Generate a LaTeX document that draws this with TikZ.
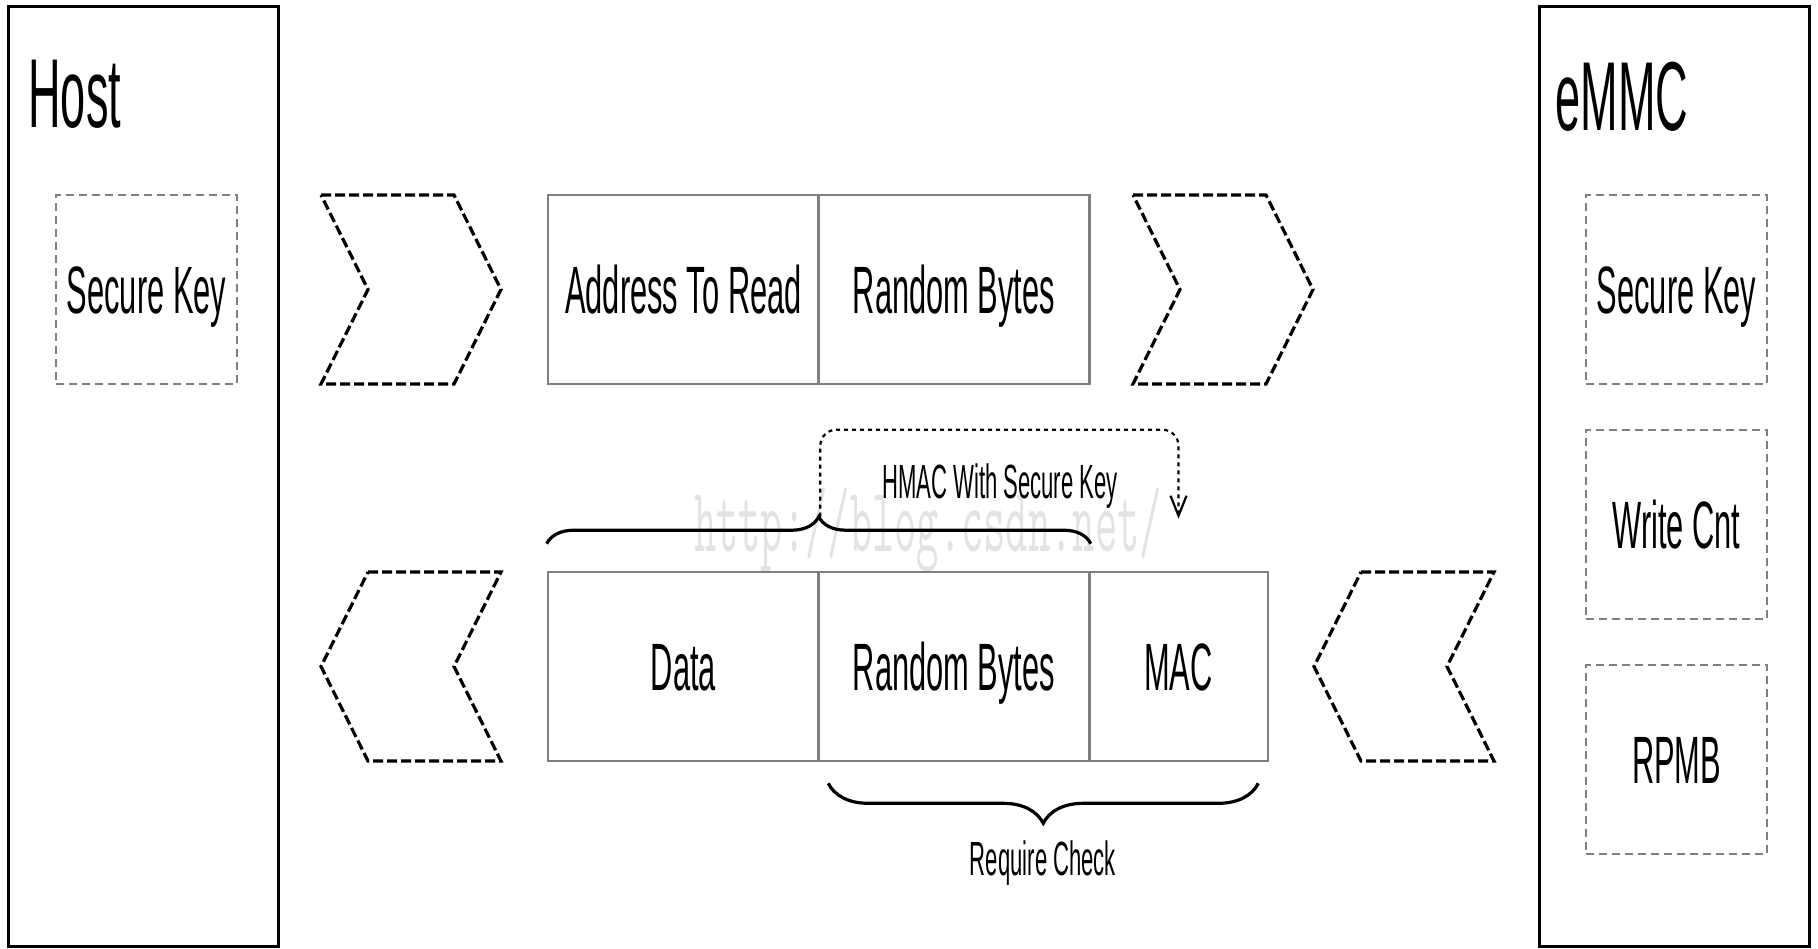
\documentclass[tikz,border=0pt]{standalone}
\usepackage{fontspec}
\usepackage{graphicx}
\usepackage{tikz}
\usetikzlibrary{arrows.meta,decorations.pathreplacing}
\pgfdeclarelayer{background}
\pgfsetlayers{background,main}
\newfontfamily\narrowsans{Liberation Sans}[FakeStretch=0.46]
\newcommand{\titlesize}{\narrowsans\fontsize{49pt}{58pt}\selectfont}
\newcommand{\fieldsize}{\narrowsans\fontsize{33.5pt}{40pt}\selectfont}
\newcommand{\notesize}{\narrowsans\fontsize{24pt}{29pt}\selectfont}
\tikzstyle{party}=[draw, line width=1.5pt
,minimum width=135pt, minimum height=470pt
,inner sep=0pt
]
\tikzstyle{store}=[draw=gray, line width=1.2pt, dash pattern=on 4pt off 2.5pt
,minimum width=90.5pt, minimum height=94.5pt
,inner sep=0pt, text height=24pt, text depth=0pt, font=\fieldsize
]
\tikzstyle{field}=[draw=gray, line width=1.3pt, minimum height=94.5pt
,inner sep=0pt, text height=24pt, text depth=0pt, font=\fieldsize
]
\tikzstyle{wide field}=[field, minimum width=135.5pt]
\tikzstyle{narrow field}=[field, minimum width=89.5pt]
\tikzstyle{chevron}=[draw, line width=1.6pt, dash pattern=on 5pt off 2pt]
\tikzstyle{hmac}=[draw, line width=1.1pt, dash pattern=on 2pt off 2pt, rounded corners=8pt
,-{Straight Barb[length=10pt,width=8pt]}
]
\tikzstyle{brace line}=[draw, line width=1.6pt, decorate]

\begin{document}
\begin{tikzpicture}[x=0.5pt, y=-0.5pt]
    \useasboundingbox (0,0) rectangle (1818,948);
    % Host and eMMC sides
    \node[party] (host) at (143,476) {};
    \node[party] (emmc) at (1674,476) {};
    \node[anchor=base west, inner sep=0pt, font=\titlesize] (host title) at (28,127) {Host};
    \node[anchor=base west, inner sep=0pt, font=\titlesize] (emmc title) at (1555,130) {eMMC};

    % Values kept on each side
    \foreach \pos/\name/\txt in {{(146.5,289.5)/host key/Secure Key}, {(1676.5,289.5)/emmc key/Secure Key}, {(1676.5,524.5)/write cnt/Write Cnt}, {(1676.5,759.5)/rpmb/RPMB}}
        \node[store] (\name) at \pos {\txt};

    % Request and response frames
    \foreach \pos/\name/\txt in {{(683.5,289.5)/addr/Address To Read}, {(954,289.5)/req rand/Random Bytes}, {(683.5,666.5)/data/Data}, {(954,666.5)/resp rand/Random Bytes}}
        \node[wide field] (\name) at \pos {\txt};
    \node[narrow field] (mac) at (1178.5,666.5) {MAC};

    % Direction chevrons, to the right on top and to the left below
    \foreach \x in {321,1133}
        \path[chevron] (\x,195) -- ++(133,0) -- ++(47,94.5) -- ++(-47,94.5) -- ++(-133,0) -- ++(47,-94.5) -- cycle;
    \foreach \x in {321,1314}
        \path[chevron] (\x+47,572) -- ++(133,0) -- ++(-47,94.5) -- ++(47,94.5) -- ++(-133,0) -- ++(-47,-94.5) -- cycle;

    % MAC built over data and random bytes
    \path[brace line, decoration={brace, amplitude=13.5pt}] ([yshift=13.5pt]data.north west) -- ([yshift=13.5pt]resp rand.north east);
    \coordinate (hmac from) at ([yshift=27pt]data.north east);
    \path[hmac] (hmac from) |- ([yshift=70.5pt]mac.north) -- ([yshift=26pt]mac.north);
    \node[font=\notesize, anchor=base] (hmac label) at (1000,498) {HMAC With Secure Key};

    % Fields checked by the host
    \path[brace line, decoration={brace, amplitude=20pt}] ([xshift=-5.5pt,yshift=-10.5pt]mac.south east) -- ([xshift=5.5pt,yshift=-10.5pt]resp rand.south west);
    \node[font=\notesize, anchor=base] (check) at (1043,875) {Require Check};

    % White page and the blog address behind everything
    \begin{pgfonlayer}{background}
        \fill[white] (0,0) rectangle (1818,948);
        \node[text=gray!22] (mark) at (928,530) {\scalebox{0.47}[1]{\ttfamily\fontsize{46pt}{50pt}\selectfont http://blog.csdn.net/}};
    \end{pgfonlayer}
\end{tikzpicture}
\end{document}
